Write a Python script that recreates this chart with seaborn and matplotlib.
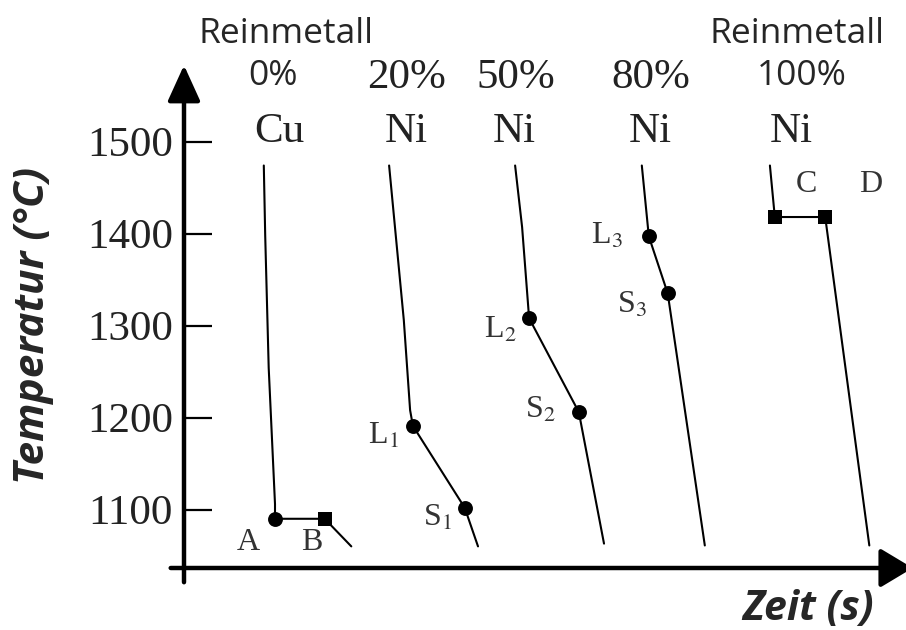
import matplotlib
matplotlib.use("Agg")
import matplotlib.pyplot as plt
import seaborn as sns
import pandas as pd

# cooling curves (time in arbitrary units, temperature in degC)
cu_time = [11.4, 11.6, 12.1, 13.0, 13.0, 20.1, 23.9]
cu_temp = [1474, 1398, 1254, 1106, 1090, 1090, 1060]
ni20_time = [29.3, 31.4, 32.3, 32.7, 40.1, 42.0]
ni20_temp = [1474, 1306, 1208, 1191, 1102, 1060]
ni50_time = [47.3, 48.3, 49.3, 56.4, 60.0]
ni50_temp = [1474, 1407, 1308, 1206, 1063]
ni80_time = [65.4, 66.4, 69.1, 74.4]
ni80_temp = [1474, 1397, 1335, 1061]
ni100_time = [83.7, 84.4, 91.6, 97.9]
ni100_temp = [1474, 1418, 1418, 1061]

# marked points: name, time, temp, marker, label offset (px)
pt_names = ["A", "B", "L$_1$", "S$_1$", "L$_2$", "S$_2$", "L$_3$", "S$_3$", "C", "D"]
pt_time = [13.0, 20.1, 32.7, 40.1, 49.3, 56.4, 66.4, 69.1, 84.4, 91.6]
pt_temp = [1090, 1090, 1191, 1102, 1308, 1206, 1397, 1335, 1418, 1418]
pt_marker = ["o", "s", "o", "o", "o", "o", "o", "o", "s", "s"]
pt_dx = [-27, -13, -30, -27, -29, -38, -42, -36, 32, 45]
pt_dy = [-24, -24, -10, -10, -12, 2, 0, -12, 33, 33]

yticks = [1100, 1200, 1300, 1400, 1500]

# column headers: (x px, text, serif?)
head_pct = [(273, "0%", False), (407, "20%", True), (516, "50%", True),
            (651, "80%", True), (802, "100%", False)]
head_elem = [(279, "Cu"), (406, "Ni"), (514.5, "Ni"), (650, "Ni"), (791, "Ni")]

sns.set_theme(style="white")
plt.rcParams["mathtext.fontset"] = "stix"

W, H = 906, 630
fig = plt.figure(figsize=(W / 100, H / 100), dpi=100)
ax = fig.add_axes([184 / W, (H - 568) / H, (W - 184) / W, (568 - 62) / H])
ax.set_xlim(0, 103.14)
ax.set_ylim(1036.5, 1586.5)
for s in ax.spines.values():
    s.set_visible(False)

curves = [(cu_time, cu_temp), (ni20_time, ni20_temp), (ni50_time, ni50_temp),
          (ni80_time, ni80_temp), (ni100_time, ni100_temp)]
for i, (t, T) in enumerate(curves):
    df = pd.DataFrame({"t": t, "T": T})
    sns.lineplot(data=df, x="t", y="T", sort=False, estimator=None,
                 color="black", lw=1.5, ax=ax)

pts = pd.DataFrame({"t": pt_time, "T": pt_temp, "m": pt_marker})
for m in ["o", "s"]:
    sub = pts[pts.m == m]
    sns.scatterplot(data=sub, x="t", y="T", marker=m, s=115, color="black",
                    edgecolor="black", linewidth=0, ax=ax, zorder=5)

for name, t, T, dx, dy in zip(pt_names, pt_time, pt_temp, pt_dx, pt_dy):
    ax.annotate(name, (t, T), xytext=(dx, dy), textcoords="offset pixels",
                ha="center", va="center", fontsize=23, color="#333333",
                family="Liberation Serif")

# axes with arrows
ax.annotate("", xy=(0, 1586.0), xytext=(0, 1018.0), annotation_clip=False,
            arrowprops=dict(arrowstyle="-|>,head_length=22,head_width=10",
                            mutation_scale=1, lw=3.2, color="black"))
ax.annotate("", xy=(104.5, 1036.5), xytext=(-2.3, 1036.5), annotation_clip=False,
            arrowprops=dict(arrowstyle="-|>,head_length=20,head_width=12",
                            mutation_scale=1, lw=3.2, color="black"))

ax.set_xticks([])
ax.set_yticks(yticks)
ax.set_yticklabels([str(v) for v in yticks], family="Liberation Serif",
                   fontsize=31, color="#222222")
ax.tick_params(axis="y", direction="in", length=20, width=1.6, pad=8,
               color="black", left=True)
ax.set_xlabel("")
ax.set_ylabel("")

# header texts
def fx(px):
    return px / W

def fy(py):
    return 1 - py / H

fig.text(fx(285.5), fy(43), "Reinmetall", ha="center", va="baseline",
         family="Open Sans", fontsize=25.5)
fig.text(fx(797), fy(43), "Reinmetall", ha="center", va="baseline",
         family="Open Sans", fontsize=25.5)
for x, txt, serif in head_pct:
    if serif:
        fig.text(fx(x), fy(88), txt, ha="center", va="baseline",
                 family="Liberation Serif", fontsize=31, color="#222222")
    else:
        fig.text(fx(x), fy(85), txt, ha="center", va="baseline",
                 family="Open Sans", fontsize=25.5)
for x, txt in head_elem:
    fig.text(fx(x), fy(142), txt, ha="center", va="baseline",
             family="Liberation Serif", fontsize=31, color="#222222")

fig.text(fx(34), fy(325), "Temperatur (°C)", rotation=90, ha="center",
         va="center", family="Open Sans", fontsize=30.5, fontweight="bold",
         style="italic")
fig.text(fx(808), fy(609), "Zeit (s)", ha="center", va="center",
         family="Open Sans", fontsize=29.5, fontweight="bold", style="italic")

fig.savefig("out.png", dpi=100)
